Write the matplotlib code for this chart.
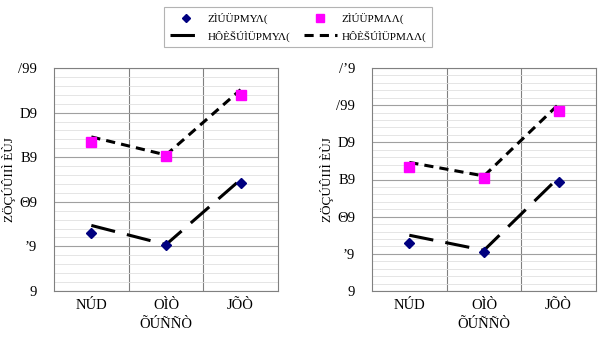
import matplotlib
matplotlib.use("Agg")
import matplotlib.pyplot as plt
from matplotlib.lines import Line2D
from matplotlib.ticker import MultipleLocator, FixedLocator

categories = ["NÚD", "OÌÒ", "JÕÒ"]
xlabel_text = "ÕÚÑÑÒ"
ylabel_text = "ZÖÇÚÛIIÌ ÈÙJ"
legend_labels = ["ZÌÚÜPMΥΛ(", "ZÌÚÜPMΛΛ(", "HÔÈŠÚÌÜPMΥΛ(", "HÔÈŠÚÌÜPMΛΛ("]

# left panel
left_obs_low = [26.1, 20.5, 48.3]
left_obs_high = [66.9, 60.4, 88.0]
left_pred_low = [29.4, 20.8, 50.0]
left_pred_high = [69.1, 61.0, 90.3]
left_ticks = [0, 20, 40, 60, 80, 100]
left_ticklabels = ["9", "ʼ9", "Θ9", "B9", "D9", "/99"]

# right panel
right_obs_low = [25.9, 21.0, 58.6]
right_obs_high = [66.9, 61.0, 97.1]
right_pred_low = [30.0, 21.9, 61.1]
right_pred_high = [69.2, 61.9, 100.5]
right_ticks = [0, 20, 40, 60, 80, 100, 120]
right_ticklabels = ["9", "ʼ9", "Θ9", "B9", "D9", "/99", "/ʼ9"]

plt.rcParams['font.family'] = ['Liberation Serif', 'DejaVu Serif']

fig = plt.figure(figsize=(5.99, 3.5), dpi=100)
W, H = 599, 350

def px_axes(x0, y0, x1, y1):
    return fig.add_axes([x0 / W, 1 - y1 / H, (x1 - x0) / W, (y1 - y0) / H])

axL = px_axes(54, 68, 278, 291)
axR = px_axes(372, 68, 596, 291)

def draw(ax, obs_low, obs_high, pred_low, pred_high, ticks, ticklabels, ymax):
    x = list(range(len(categories)))
    ax.plot(x, pred_low, color='black', lw=2.2, dashes=(8, 4), zorder=3)
    ax.plot(x, pred_high, color='black', lw=2.2, dashes=(3, 2), zorder=3)
    ax.plot(x, obs_low, ls='none', marker='D', ms=5.5, color='#000080', zorder=4)
    ax.plot(x, obs_high, ls='none', marker='s', ms=7.5, color='#FF00FF', zorder=4)
    ax.set_xlim(-0.5, len(categories) - 0.5)
    ax.set_ylim(0, ymax)
    ax.set_yticks(ticks)
    ax.set_yticklabels(ticklabels, fontsize=10.5)
    ax.yaxis.set_minor_locator(MultipleLocator(4))
    ax.set_xticks(x)
    ax.set_xticklabels(categories, fontsize=10.5)
    ax.xaxis.set_minor_locator(FixedLocator([0.5, 1.5]))
    ax.grid(which='major', axis='y', color='#a0a0a0', lw=0.8)
    ax.grid(which='minor', axis='y', color='#e0e0e0', lw=0.6)
    ax.grid(which='minor', axis='x', color='#808080', lw=0.8)
    ax.tick_params(which='both', length=0)
    ax.tick_params(axis='y', pad=12)
    ax.tick_params(axis='x', pad=6)
    for s in ax.spines.values():
        s.set_color('#808080')
        s.set_linewidth(0.8)
    ax.set_axisbelow(True)
    ax.set_xlabel(xlabel_text, fontsize=10.5, labelpad=4)
    ax.set_ylabel(ylabel_text, fontsize=9.5, labelpad=2)

draw(axL, left_obs_low, left_obs_high, left_pred_low, left_pred_high, left_ticks, left_ticklabels, 100)
draw(axR, right_obs_low, right_obs_high, right_pred_low, right_pred_high, right_ticks, right_ticklabels, 120)

handles = [
    Line2D([], [], ls='none', marker='D', ms=4, color='#000080'),
    Line2D([], [], color='black', lw=2.2, dashes=(8, 4)),
    Line2D([], [], ls='none', marker='s', ms=6, color='#FF00FF'),
    Line2D([], [], color='black', lw=2.2, dashes=(3, 2)),
]
labels = [legend_labels[0], legend_labels[2], legend_labels[1], legend_labels[3]]
leg = fig.legend(handles, labels, ncol=2, loc='center',
                 bbox_to_anchor=(298 / W, 1 - 27 / H), fontsize=8,
                 frameon=True, fancybox=False, edgecolor='#a0a0a0',
                 handlelength=3.0, handletextpad=0.4, columnspacing=1.2,
                 labelspacing=0.6, borderpad=0.5)
leg.get_frame().set_linewidth(0.8)

fig.savefig("out.png", dpi=100)
